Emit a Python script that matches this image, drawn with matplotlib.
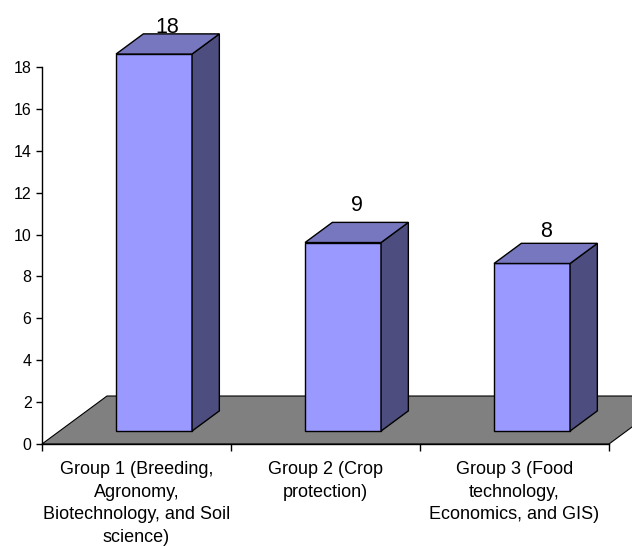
import matplotlib
matplotlib.use("Agg")
import matplotlib.pyplot as plt
from matplotlib.patches import Polygon
from matplotlib.transforms import offset_copy

plt.rcParams['font.family'] = ['Liberation Sans', 'DejaVu Sans']

categories = ["Group 1 (Breeding,\nAgronomy,\nBiotechnology, and Soil\nscience)",
              "Group 2 (Crop\nprotection)",
              "Group 3 (Food\ntechnology,\nEconomics, and GIS)"]
values = [18, 9, 8]
yticks = [0, 2, 4, 6, 8, 10, 12, 14, 16, 18]

# vertical gap (pixels) between each bar's back top edge and its value label
label_gap_px = [1, 11, 6]

W, H = 632, 546
fig = plt.figure(figsize=(W / 100, H / 100), dpi=100)
ax = fig.add_axes([42 / W, (H - 444) / H, 567 / W, 377 / H])
ax.set_xlim(0, len(categories))
ax.set_ylim(0, 18)

# depth vector of the floor (in data units)
DX, DY = 65 / 189, 48 / (377 / 18)
d0, d1 = 0.27, 0.69
bw = 76 / 189

floor = Polygon([(0, 0), (3, 0), (3 + DX, DY), (DX, DY)], closed=True,
                facecolor='#808080', edgecolor='black', lw=0.8, clip_on=False, zorder=1)
ax.add_patch(floor)

for i, v in enumerate(values):
    xc = i + 0.5
    x0 = xc - bw / 2 + d0 * DX
    x1 = xc + bw / 2 + d0 * DX
    yb = d0 * DY
    yt = yb + v
    ox, oy = (d1 - d0) * DX, (d1 - d0) * DY
    front = Polygon([(x0, yb), (x1, yb), (x1, yt), (x0, yt)], closed=True,
                    facecolor='#9999FF', edgecolor='black', lw=1, clip_on=False, zorder=3)
    side = Polygon([(x1, yb), (x1 + ox, yb + oy), (x1 + ox, yt + oy), (x1, yt)], closed=True,
                   facecolor='#4D4D7F', edgecolor='black', lw=1, clip_on=False, zorder=3)
    top = Polygon([(x0, yt), (x1, yt), (x1 + ox, yt + oy), (x0 + ox, yt + oy)], closed=True,
                  facecolor='#7777BF', edgecolor='black', lw=1, clip_on=False, zorder=3)
    for p in (front, side, top):
        ax.add_patch(p)
    tr = offset_copy(ax.transData, fig=fig, x=0, y=label_gap_px[i], units='dots')
    ax.text((x0 + x1 + ox) / 2, yt + oy, str(v), ha='center', va='baseline',
            fontsize=15.5, clip_on=False, zorder=4, transform=tr)

for s in ('top', 'right'):
    ax.spines[s].set_visible(False)
for s in ('left', 'bottom'):
    ax.spines[s].set_linewidth(1)
    ax.spines[s].set_zorder(5)

ax.set_yticks(yticks)
ax.set_yticklabels([str(t) for t in yticks], fontsize=11.5)
ax.tick_params(axis='y', direction='out', length=4, width=1, pad=3.5)

ax.set_xticks([0, 1, 2, 3])
ax.set_xticklabels([])
ax.tick_params(axis='x', direction='out', length=5, width=1)
for i, c in enumerate(categories):
    ax.text(i + 0.5, -0.8, c, ha='center', va='top', fontsize=13,
            linespacing=1.45, clip_on=False)

fig.savefig("out.png", dpi=100)
